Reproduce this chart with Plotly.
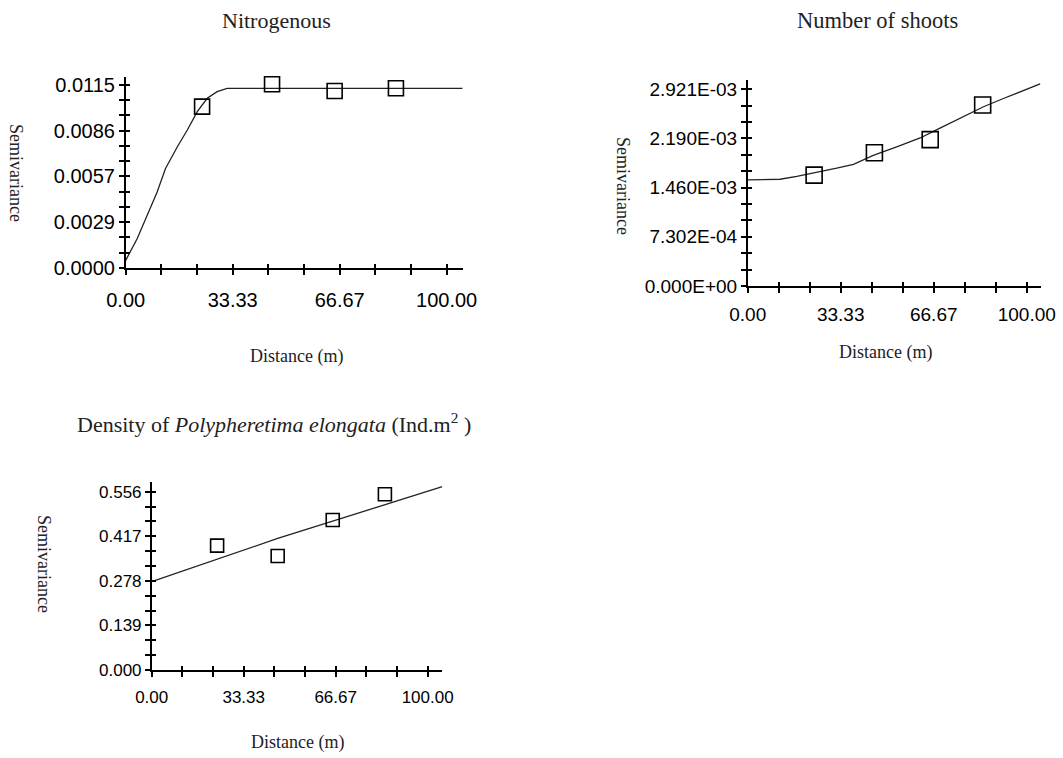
import plotly.graph_objects as go

W, H = 1063, 758

# ---------------- data ----------------
nitro_lag = [23.8, 45.6, 65.1, 84.2]
nitro_gamma = [0.01014, 0.01154, 0.01112, 0.01129]
nitro_model_x = [0, 3.6, 6.7, 9.8, 12.4, 16.1, 19.2, 22.3, 25.4, 28.5, 31.6, 105.0]
nitro_model_y = [0.00048, 0.00185, 0.00332, 0.00478, 0.00625, 0.00762, 0.00867,
                 0.00982, 0.01066, 0.01108, 0.01129, 0.01129]
nitro_ylabels = ["0.0000", "0.0029", "0.0057", "0.0086", "0.0115"]
nitro_ymax_label = 0.0115

shoots_lag = [23.8, 45.4, 65.4, 84.2]
shoots_gamma = [1.646e-3, 1.978e-3, 2.174e-3, 2.687e-3]
shoots_model_x = [0, 11.6, 17.6, 23.5, 31.9, 37.9, 45.0, 53.4, 61.8, 68.9, 76.1, 84.5, 91.6, 104.8]
shoots_model_y = [1.575e-3, 1.585e-3, 1.627e-3, 1.675e-3, 1.749e-3, 1.807e-3, 1.939e-3,
                  2.066e-3, 2.198e-3, 2.345e-3, 2.491e-3, 2.662e-3, 2.784e-3, 3.000e-3]
shoots_ylabels = ["0.000E+00", "7.302E-04", "1.460E-03", "2.190E-03", "2.921E-03"]
shoots_ymax_label = 2.921e-3

dens_lag = [23.7, 45.65, 65.6, 84.5]
dens_gamma = [0.3876, 0.3554, 0.4677, 0.5477]
dens_model_x = [0, 45.65, 105.3]
dens_model_y = [0.2754, 0.4100, 0.5716]
dens_ylabels = ["0.000", "0.139", "0.278", "0.417", "0.556"]
dens_ymax_label = 0.556

x_labels = ["0.00", "33.33", "66.67", "100.00"]
x_label_max = 100.0

# ---------------- layout helpers ----------------
def px_x(p):
    return p / W

def px_y(p):
    return 1 - p / H

panels = [
    dict(lag=nitro_lag, gam=nitro_gamma, mx=nitro_model_x, my=nitro_model_y,
         ylab=nitro_ylabels, ytop=nitro_ymax_label,
         l=125.7, r=462.7, b=268.0, t=77.0, xmax=105.0, ymax=0.01200,
         font=20, msize=15, xstand=8),
    dict(lag=shoots_lag, gam=shoots_gamma, mx=shoots_model_x, my=shoots_model_y,
         ylab=shoots_ylabels, ytop=shoots_ymax_label,
         l=747.7, r=1041.0, b=286.0, t=80.0, xmax=105.1, ymax=3.059e-3,
         font=19, msize=16, xstand=5),
    dict(lag=dens_lag, gam=dens_gamma, mx=dens_model_x, my=dens_model_y,
         ylab=dens_ylabels, ytop=dens_ymax_label,
         l=151.7, r=442.3, b=670.0, t=481.7, xmax=105.3, ymax=0.587,
         font=17, msize=13, xstand=6),
]

fig = go.Figure()
layout = dict(
    width=W, height=H, autosize=False,
    margin=dict(l=0, r=0, t=0, b=0, pad=0),
    paper_bgcolor="white", plot_bgcolor="white",
    showlegend=False,
)

n = len(panels)
for i, p in enumerate(panels):
    xa = "x" if i == 0 else f"x{i+1}"
    ya = "y" if i == 0 else f"y{i+1}"
    xo = f"x{i+1+n}"
    yo = f"y{i+1+n}"
    xkey = "xaxis" if i == 0 else f"xaxis{i+1}"
    ykey = "yaxis" if i == 0 else f"yaxis{i+1}"
    xokey = f"xaxis{i+1+n}"
    yokey = f"yaxis{i+1+n}"

    nlab_x = len(x_labels)
    xt = [x_label_max * k / ((nlab_x - 1) * 3) for k in range((nlab_x - 1) * 3 + 1)]
    xtt = [x_labels[k // 3] if k % 3 == 0 else "" for k in range(len(xt))]
    nlab_y = len(p["ylab"])
    yt = [p["ytop"] * k / ((nlab_y - 1) * 3) for k in range((nlab_y - 1) * 3 + 1)]
    ytt = [p["ylab"][k // 3] if k % 3 == 0 else "" for k in range(len(yt))]

    dom_x = [px_x(p["l"]), px_x(p["r"])]
    dom_y = [px_y(p["b"]), px_y(p["t"])]
    tickfont = dict(family="Liberation Sans, Arial", size=p["font"], color="black")

    layout[xkey] = dict(domain=dom_x, anchor=ya, automargin=False,
                        range=[0, p["xmax"]], tickmode="array", tickvals=xt, ticktext=xtt,
                        ticks="outside", ticklen=5, tickwidth=1.5, tickcolor="black",
                        showline=True, linecolor="black", linewidth=1.5,
                        showgrid=False, zeroline=False, tickfont=tickfont,
                        ticklabelstandoff=p["xstand"], fixedrange=True)
    layout[ykey] = dict(domain=dom_y, anchor=xa, automargin=False,
                        range=[0, p["ymax"]], tickmode="array", tickvals=yt, ticktext=ytt,
                        ticks="outside", ticklen=5, tickwidth=1.5, tickcolor="black",
                        showline=True, linecolor="black", linewidth=1.5,
                        showgrid=False, zeroline=False, tickfont=tickfont,
                        ticklabelstandoff=0, fixedrange=True)
    layout[xokey] = dict(overlaying=xa, anchor=yo, side="bottom", automargin=False,
                         range=[0, p["xmax"]], tickmode="array", tickvals=xt,
                         ticks="inside", ticklen=4, tickwidth=1.5, tickcolor="black",
                         showticklabels=False, showline=False, showgrid=False,
                         zeroline=False, fixedrange=True)
    layout[yokey] = dict(overlaying=ya, anchor=xo, side="left", automargin=False,
                         range=[0, p["ymax"]], tickmode="array", tickvals=yt,
                         ticks="inside", ticklen=4, tickwidth=1.5, tickcolor="black",
                         showticklabels=False, showline=False, showgrid=False,
                         zeroline=False, fixedrange=True)

    fig.add_trace(go.Scatter(x=p["mx"], y=p["my"], mode="lines",
                             line=dict(color="#222222", width=1.3),
                             xaxis=xa, yaxis=ya, cliponaxis=False, hoverinfo="skip"))
    fig.add_trace(go.Scatter(x=p["lag"], y=p["gam"], mode="markers",
                             marker=dict(symbol="square-open", size=p["msize"], color="black",
                                         line=dict(width=1.6, color="black")),
                             xaxis=xa, yaxis=ya, cliponaxis=False))
    fig.add_trace(go.Scatter(x=[], y=[], xaxis=xo, yaxis=yo, hoverinfo="skip"))

fig.update_layout(**layout)

serif = "Liberation Serif, Times New Roman, serif"
annots = [
    ("Nitrogenous", 276.5, 20, 22, 0),
    ("Number of shoots", 877.5, 20, 22.5, 0),
    ("Density of <i>Polypheretima elongata</i> (Ind.m<sup>2</sup> )", 273.5, 423, 22, 0),
    ("Semivariance", 16, 173, 18, 90),
    ("Semivariance", 623, 186, 18, 90),
    ("Semivariance", 44, 564, 18, 90),
    ("Distance (m)", 296, 357, 18, 0),
    ("Distance (m)", 885, 352, 18, 0),
    ("Distance (m)", 297, 742, 18, 0),
]
for text, x, y, size, ang in annots:
    fig.add_annotation(text=text, x=px_x(x), y=px_y(y), xref="paper", yref="paper",
                       xanchor="center", yanchor="middle", showarrow=False,
                       textangle=ang, font=dict(family=serif, size=size, color="#222222"))

fig.write_html("out.html")
